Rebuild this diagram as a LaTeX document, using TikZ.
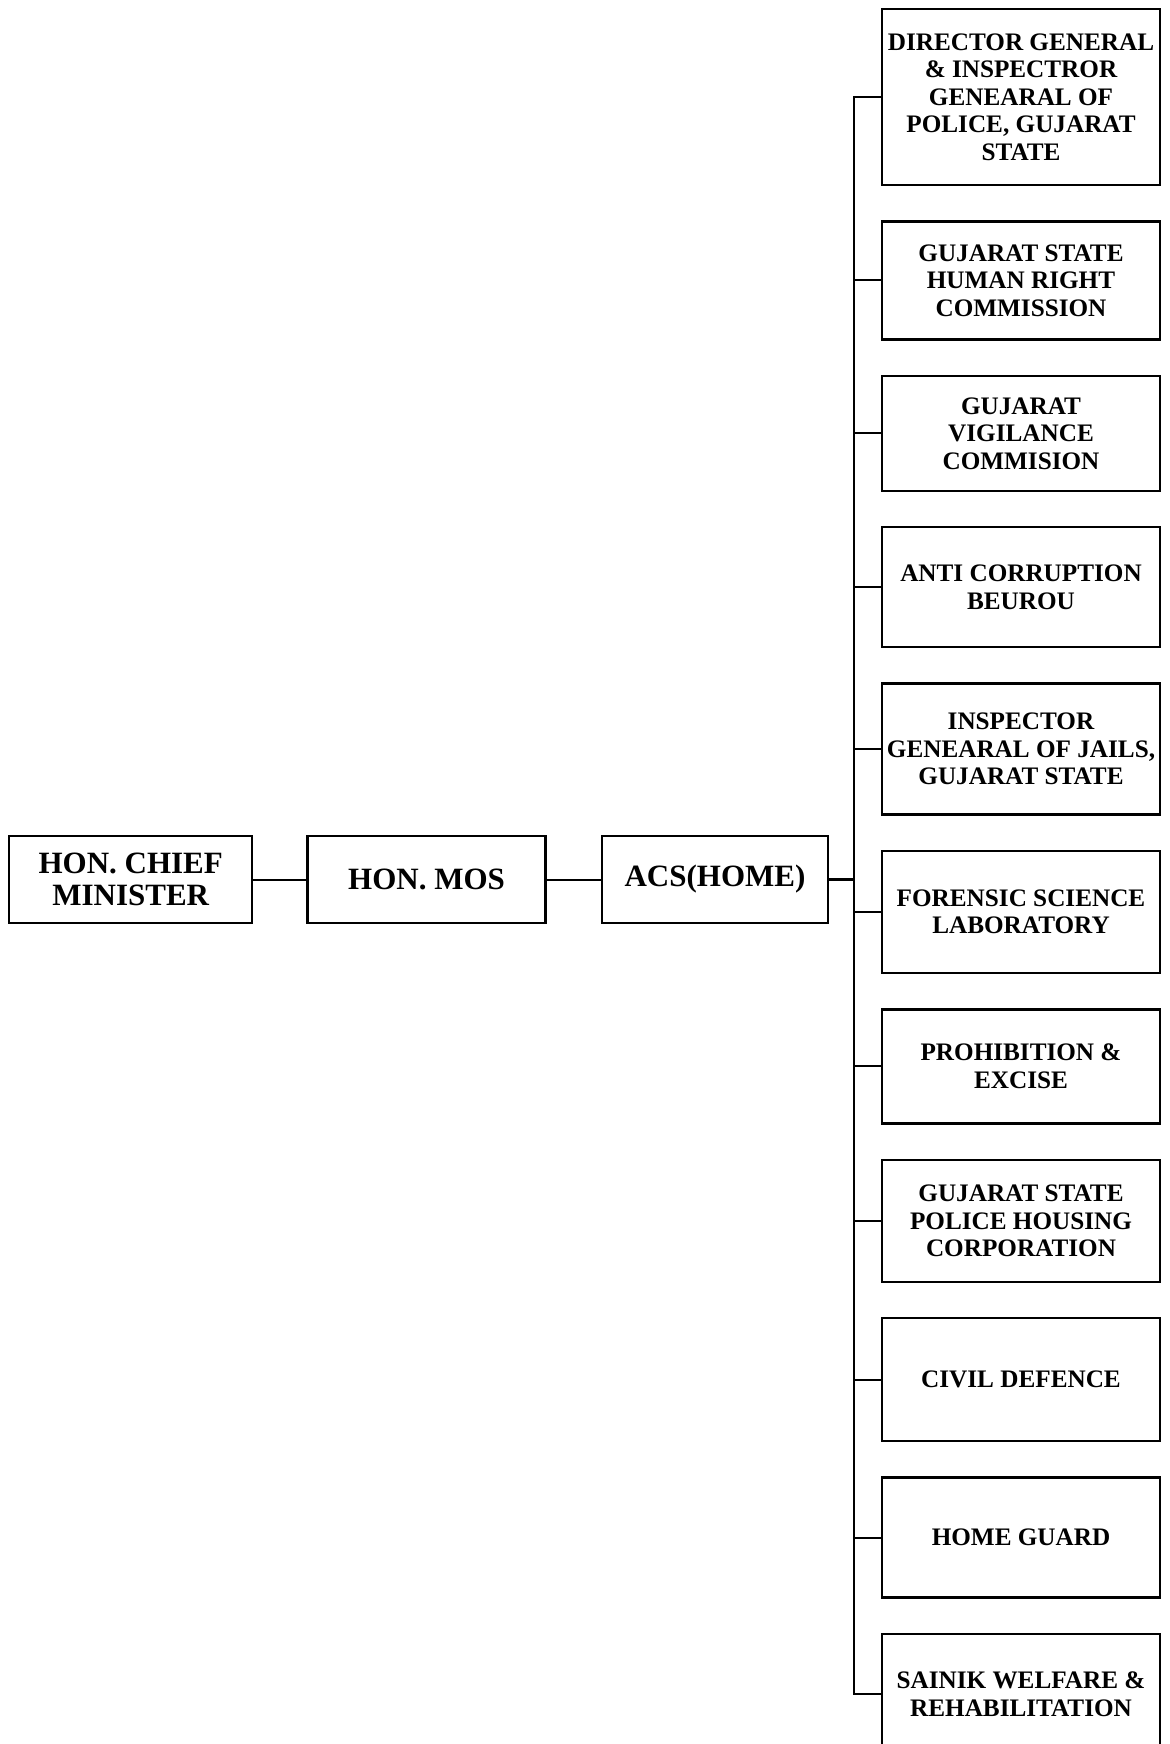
\documentclass[tikz,border=0pt]{standalone}
\usepackage{fontspec}
\setmainfont{Liberation Serif}
\usetikzlibrary{positioning}
\begin{document}
\begin{tikzpicture}
	[x=0.5pt, y=-0.5pt,
	node distance={17pt},
	line width=1pt,
	top/.style = {draw, line width=1.2pt, minimum height=43.5pt, inner sep=2pt, align=center, font=\fontsize{15.5}{16}\selectfont\bfseries},
	unit/.style = {draw, line width=1.2pt, minimum width=139pt, inner sep=2pt, align=center, font=\fontsize{12.6}{13.75}\selectfont\bfseries}]
\path[use as bounding box, clip] (0,0) rectangle (1169,1744);
% chain of command
\node[top, minimum width=113pt] (acs) at (715,879.5) {ACS(HOME)};
\node[top, minimum width=119pt] (mos) [left=27pt of acs] {HON. MOS};
\node[top, minimum width=121.5pt] (cm) [left=26.5pt of mos] {HON. CHIEF\\MINISTER};
% departments under ACS(HOME)
\node[unit, minimum height=88pt] (d1) at (1021,97) {DIRECTOR GENERAL\\\& INSPECTROR\\GENEARAL OF\\POLICE, GUJARAT\\STATE};
\node[unit, minimum height=59pt] (d2) [below=of d1] {GUJARAT STATE\\HUMAN RIGHT\\COMMISSION};
\node[unit, minimum height=57.5pt] (d3) [below=of d2] {GUJARAT\\VIGILANCE\\COMMISION};
\node[unit, minimum height=60pt] (d4) [below=of d3] {ANTI CORRUPTION\\BEUROU};
\node[unit, minimum height=65.5pt] (d5) [below=of d4] {INSPECTOR\\GENEARAL OF JAILS,\\GUJARAT STATE};
\node[unit, minimum height=61pt] (d6) [below=of d5] {FORENSIC SCIENCE\\LABORATORY};
\node[unit, minimum height=57pt] (d7) [below=of d6] {PROHIBITION \&\\EXCISE};
\node[unit, minimum height=61pt] (d8) [below=of d7] {GUJARAT STATE\\POLICE HOUSING\\CORPORATION};
\node[unit, minimum height=61.5pt] (d9) [below=of d8] {CIVIL DEFENCE};
\node[unit, minimum height=60pt] (d10) [below=of d9] {HOME GUARD};
\node[unit, minimum height=60pt] (d11) [below=of d10] {SAINIK WELFARE \&\\REHABILITATION};
\coordinate (bus) at ([xshift=-13.5pt]d1.west);
\draw (cm) -- (mos);
\draw (mos) -- (acs);
\draw[line width=1.8pt] (acs.east) -- (acs.east -| bus);
\draw (d1.west) -- (bus) |- (d11.west);
\draw (d2.west) -- (d2.west -| bus);
\draw (d3.west) -- (d3.west -| bus);
\draw (d4.west) -- (d4.west -| bus);
\draw (d5.west) -- (d5.west -| bus);
\draw (d6.west) -- (d6.west -| bus);
\draw (d7.west) -- (d7.west -| bus);
\draw (d8.west) -- (d8.west -| bus);
\draw (d9.west) -- (d9.west -| bus);
\draw (d10.west) -- (d10.west -| bus);
\end{tikzpicture}
\end{document}
